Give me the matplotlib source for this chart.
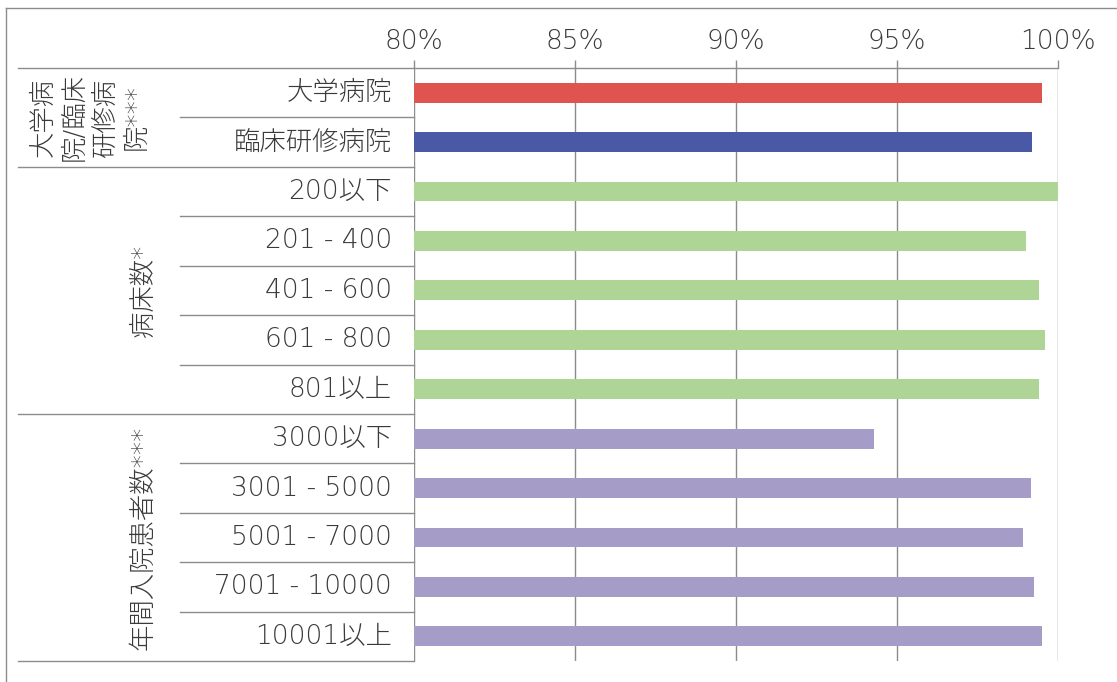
import matplotlib
matplotlib.use("Agg")
import matplotlib.pyplot as plt
from matplotlib.lines import Line2D
import matplotlib.transforms as mtransforms

plt.rcParams['font.family'] = ['DejaVu Sans', 'Noto Sans CJK JP']

categories = ["大学病院", "臨床研修病院", "200以下", "201 - 400", "401 - 600",
              "601 - 800", "801以上", "3000以下", "3001 - 5000", "5001 - 7000",
              "7001 - 10000", "10001以上"]
values = [99.5, 99.2, 100.0, 99.0, 99.4, 99.6, 99.4, 94.3, 99.15, 98.9, 99.25, 99.5]
group_names = ["大学病\n院/臨床\n研修病\n院***", "病床数*", "年間入院患者数***"]
group_sizes = [2, 5, 5]
colors = ["#E0544F", "#4A59A6", "#AED596", "#AED596", "#AED596", "#AED596", "#AED596",
          "#A59DC7", "#A59DC7", "#A59DC7", "#A59DC7", "#A59DC7"]
xticks = [80, 85, 90, 95, 100]
xticklabels = ["80%", "85%", "90%", "95%", "100%"]

W, H = 1117, 682
fig = plt.figure(figsize=(W / 100, H / 100), dpi=100)
fig.patch.set_facecolor("white")

def fx(px):
    return px / W

def fy(py):
    return 1 - py / H

left_px, right_px, top_px, bot_px = 414, 1058, 68, 661
ax = fig.add_axes([fx(left_px), fy(bot_px), fx(right_px) - fx(left_px), fy(top_px) - fy(bot_px)])
n = len(categories)
ax.set_xlim(80, 100)
ax.set_ylim(n - 0.5, -0.5)

txtcol = "#3a3a3a"
linecol = "#8c8c8c"
FS = 19
FW = 200

ypos = list(range(n))
ax.barh(ypos, [v - 80 for v in values], left=80, height=0.40, color=colors, zorder=3)

for s in ax.spines.values():
    s.set_visible(False)
ax.set_yticks([])
ax.xaxis.tick_top()
ax.set_xticks(xticks)
ax.set_xticklabels(xticklabels, fontsize=FS, color=txtcol, fontweight=FW)
ax.tick_params(axis='x', length=6, width=1.0, color=linecol, pad=4)
for t in xticks:
    ax.axvline(t, color=linecol, lw=1.0, zorder=1)

# table lines
tr = mtransforms.blended_transform_factory(fig.transFigure, ax.transData)
def hline(y, x0, x1):
    ax.add_line(Line2D([fx(x0), fx(x1)], [y, y], transform=tr, color=linecol,
                       lw=1.0, clip_on=False, zorder=2))

hline(-0.5, 18, right_px)
boundaries = []
start = 0
for g in group_sizes:
    boundaries.append((start, start + g))
    start += g
for (a, b) in boundaries:
    hline(b - 0.5, 18, left_px)
    for k in range(a + 1, b):
        hline(k - 0.5, 180, left_px)

# row labels
for i, c in enumerate(categories):
    ax.text(fx(392), i, c, transform=tr, ha='right', va='center', fontsize=FS,
            color=txtcol, fontweight=FW)

# group labels
for (a, b), name in zip(boundaries, group_names):
    yc = (a + b - 1) / 2
    ax.text(fx(143) if "\n" not in name else fx(90), yc, name, transform=tr,
            ha='center', va='center', rotation=90, fontsize=FS, color=txtcol,
            multialignment='center', linespacing=1.3, fontweight=FW)

# outer frame
fig.add_artist(Line2D([fx(6), fx(6)], [fy(8), fy(682)], color=linecol, lw=1.0))
fig.add_artist(Line2D([fx(6), fx(1117)], [fy(8), fy(8)], color=linecol, lw=1.0))

fig.savefig("out.png", dpi=100)
